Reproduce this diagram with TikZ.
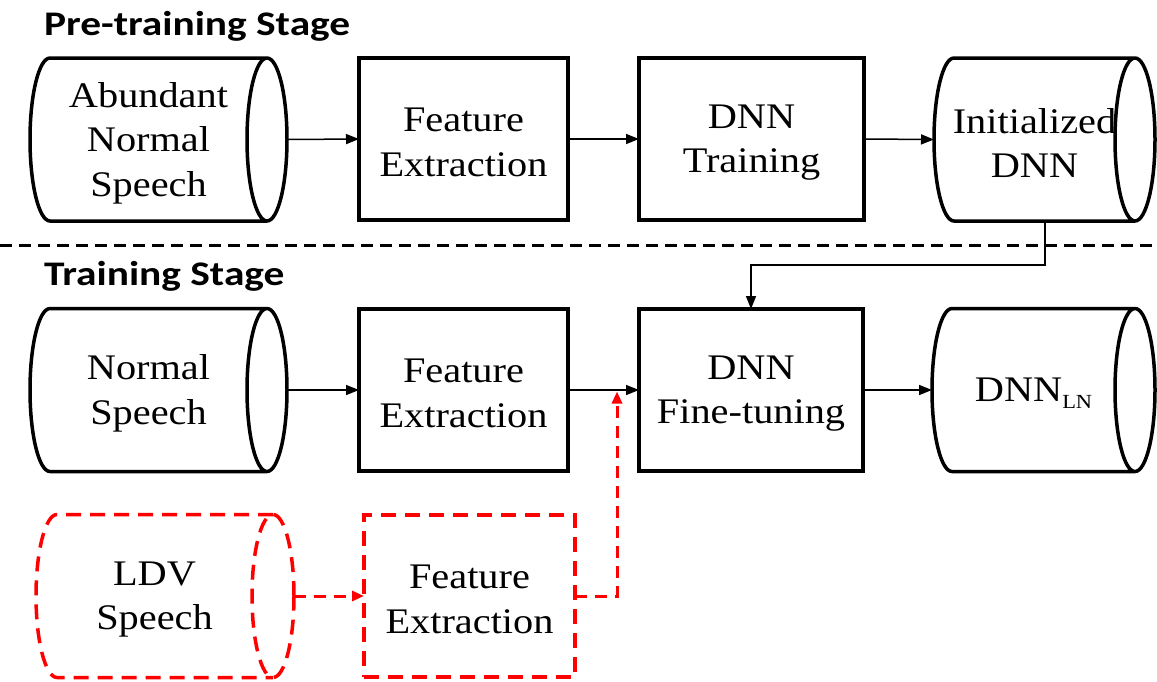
\documentclass[tikz,border=0pt]{standalone}
\usepackage{fontspec}
\newfontfamily\headfont[FakeStretch=1.2]{Carlito}
\newfontfamily\lblfont[FakeStretch=1.12]{Liberation Serif}
\usetikzlibrary{calc,arrows.meta}

% outline of a horizontal cylinder around a body node: #1 node, #2 end radius (pt), #3 style
\newcommand{\cylout}[3]{%
  \draw[#3] let \p1=($(#1.north)-(#1.south)$) in
    (#1.north east) -- ($(#1.north west)+(#2,0)$)
    arc[start angle=90, end angle=270, x radius=#2pt, y radius={0.5*\y1}]
    -- (#1.south east)
    (#1.east) ellipse[x radius=#2pt, y radius={0.5*\y1}];}

\begin{document}
\begin{tikzpicture}[x=1pt,y=1pt,
  every node/.style={inner sep=0pt, outer sep=0pt},
  lbl/.style={align=center, font=\lblfont\fontsize{36}{44.5}\selectfont},
  txt/.style={label={[lbl,yshift=-3.5pt]center:{#1}}},
  head/.style={anchor=base west, font=\headfont\bfseries\fontsize{34.5}{40}\selectfont},
  procbox/.style={draw, line width=3.5pt, minimum height=162pt},
  cylbody/.style={minimum height=163pt},
  cylline/.style={line width=3.5pt, line join=round},
  redbox/.style={draw=red, line width=3.5pt, minimum height=162pt,
    dash pattern=on 15pt off 9pt},
  redcyl/.style={draw=red, line width=3.5pt, line join=round, dash pattern=on 15pt off 9pt},
  arr/.style={line width=1.5pt, -{Triangle[length=13pt,width=10pt]}},
  redarr/.style={draw=red, line width=3pt, dash pattern=on 12pt off 8pt,
    -{Triangle[length=12pt,width=10pt,fill=red]}},
  sepline/.style={line width=3pt, dash pattern=on 12pt off 7pt}]

\useasboundingbox (0,0) rectangle (1157,-681);

% stage headings
\node[head] (pretitle) at (44,-35) {Pre-training Stage};
\node[head] (traintitle) at (44,-285) {Training Stage};

% separator between the two stages
\coordinate (sepL) at (0,-245);
\coordinate (sepR) at (1157,-245);
\draw[sepline] (sepL) -- (sepR);

% pre-training row
\node[cylbody, minimum width=237pt, txt={Abundant\\Normal\\Speech}] (abund) at (148.5,-139.5) {};
\cylout{abund}{20}{cylline}
\coordinate (abundR) at ($(abund.east)+(20,0)$);
\node[procbox, minimum width=209pt, txt={Feature\\Extraction}] (fe1) at (463.5,-139) {};
\node[procbox, minimum width=225pt, txt={DNN\\Training}] (train) at (751.5,-139) {};
\node[cylbody, minimum width=201pt, txt={Initialized\\DNN}] (init) at (1034.5,-139.5) {};
\cylout{init}{20}{cylline}

\draw[arr] (abundR) -- (fe1.west);
\draw[arr] (fe1.east) -- (train.west);
\draw[arr] (train.east) -- (init.west);

% training row
\node[cylbody, minimum width=237pt, txt={Normal\\Speech}] (normal) at (148.5,-390) {};
\cylout{normal}{20}{cylline}
\coordinate (normalR) at ($(normal.east)+(20,0)$);
\node[procbox, minimum width=209pt, txt={Feature\\Extraction}] (fe2) at (463.5,-390) {};
\node[procbox, minimum width=224pt, txt={DNN\\Fine-tuning}] (fine) at (751,-390) {};
\node[cylbody, minimum width=203pt,
  txt={DNN\raisebox{-7pt}{\fontsize{20}{20}\selectfont LN}}] (dnnln) at (1033.5,-390) {};
\cylout{dnnln}{20}{cylline}

\draw[arr] (normalR) -- (fe2.west);
\draw[arr] (fe2.east) -- (fine.west);
\draw[arr] (fine.east) -- (dnnln.west);

% initialized model feeds the fine-tuning
\coordinate (initturn) at (1045,-265);
\draw[arr] (initturn |- init.south) -- (initturn) -| (fine.north);

% LDV branch
\node[cylbody, minimum width=237pt, txt={LDV\\Speech}] (ldv) at (154.5,-596) {};
\cylout{ldv}{21}{redcyl}
\coordinate (ldvR) at ($(ldv.east)+(21,0)$);
\node[redbox, minimum width=211pt, txt={Feature\\Extraction}] (fe3) at (469.5,-596) {};
\coordinate (redturn) at (617,-500);

\draw[redarr] (ldvR) -- (fe3.west);
\draw[redarr] (fe3.east) -- (fe3.east -| redturn) -- ($(redturn |- fe2.east)+(0,-1.5)$);

\end{tikzpicture}
\end{document}
